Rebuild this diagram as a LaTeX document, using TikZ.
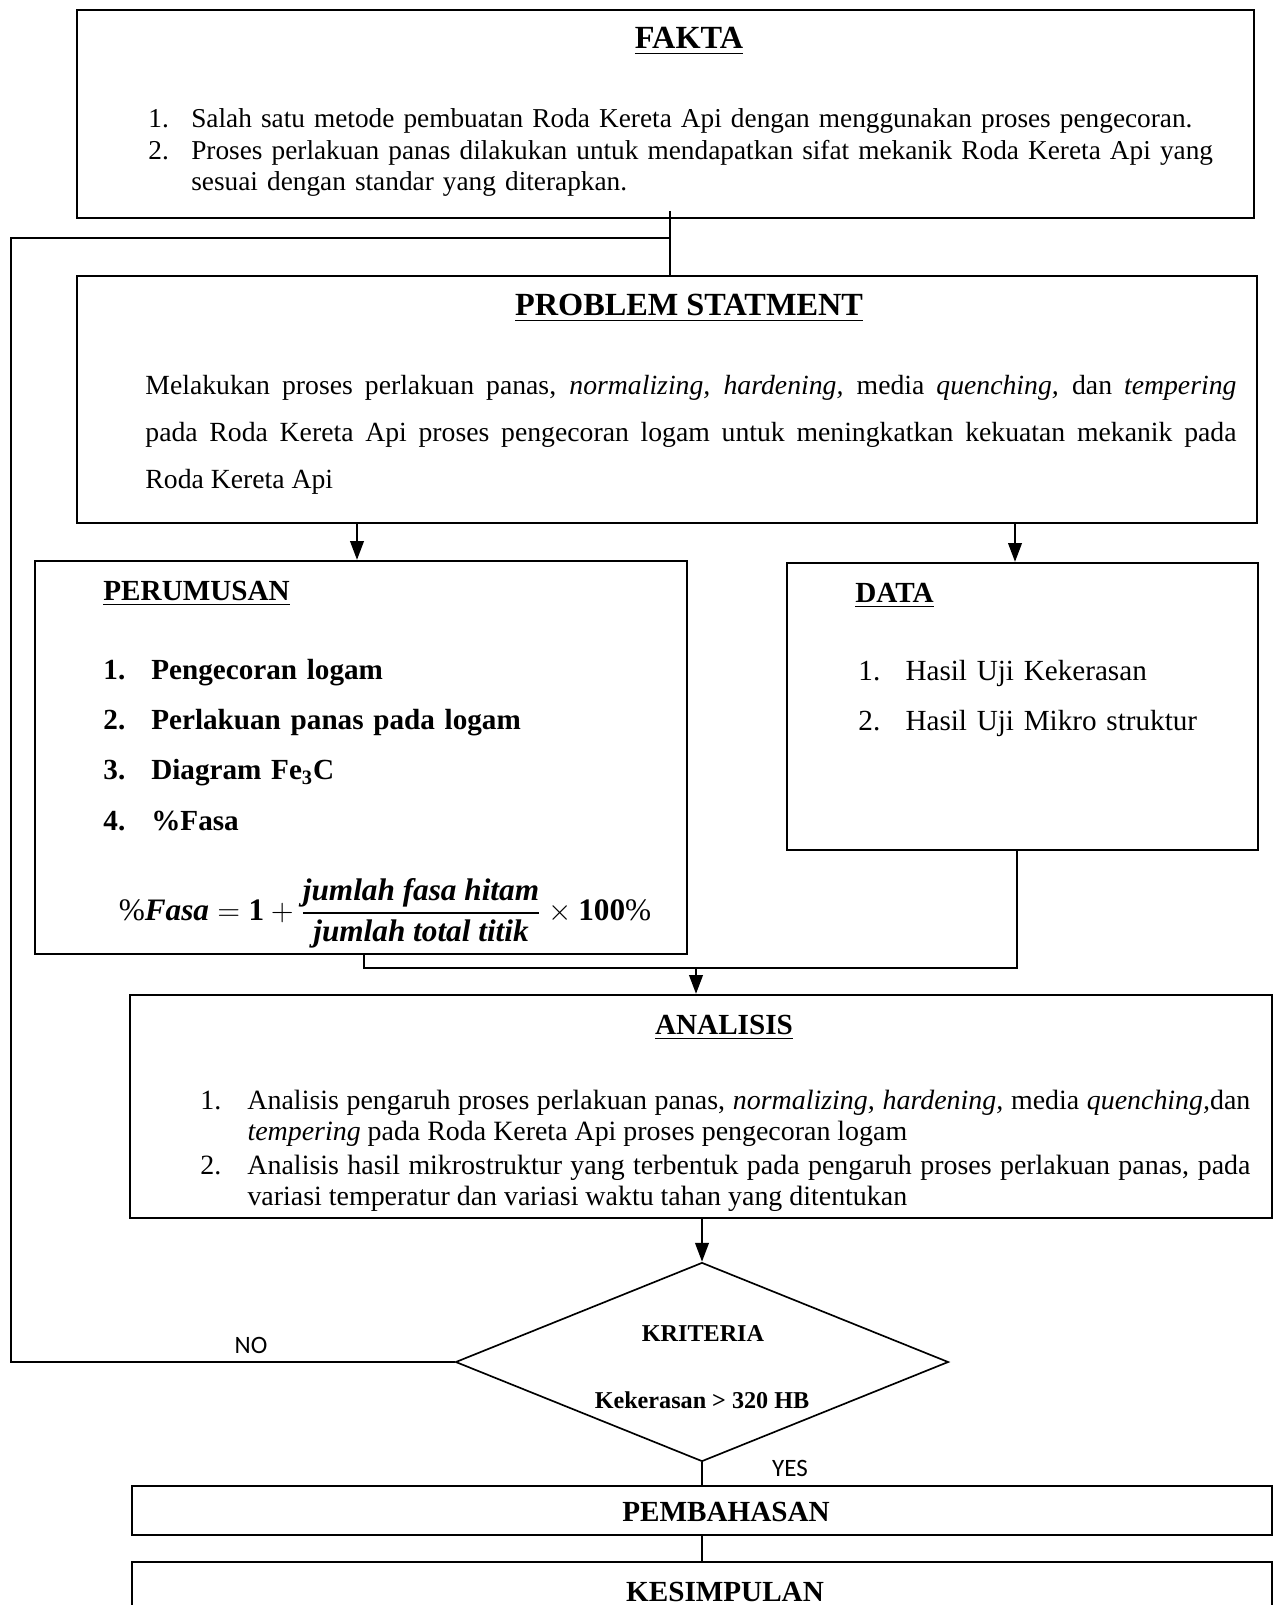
\documentclass[tikz,border=0pt]{standalone}
\usepackage{fontspec}
\setmainfont{Liberation Serif}
\newfontfamily\calibri{Carlito}
\usepackage{amsmath}
\usepackage{tikz}
\usetikzlibrary{fit,shapes.geometric,arrows.meta}
\tikzset{
    box/.style={draw, line width=1.1pt, inner sep=0pt},
    txt/.style={inner sep=0pt},
    heading/.style={txt, font=\fontsize{14}{16}\selectfont\bfseries},
    bigheading/.style={txt, font=\fontsize{15.5}{18}\selectfont\bfseries},
    flow/.style={line width=1pt, -{Triangle[length=9pt, width=6.5pt]}},
    link/.style={line width=0.6pt},
    backline/.style={line width=1.1pt},
    answer/.style={txt, font=\calibri\fontsize{12}{14}\selectfont}
}
\newcommand{\listline}[3][22.6pt]{\noindent\hangindent=#1\hangafter=1\makebox[#1][l]{#2}#3\par}

\begin{document}
\begin{tikzpicture}[x=0.48pt, y=-0.48pt]
    \useasboundingbox (0,0) rectangle (1275,1605);
    \clip (0,0) rectangle (1275,1605);
    % boxes
    \node[box, fit={(77,10) (1254,218)}] (fakta) {};
    \node[box, fit={(77,276) (1257,523)}] (problem) {};
    \node[box, fit={(35,561) (687,954)}] (perumusan) {};
    \node[box, fit={(787,563) (1258,850)}] (data) {};
    \node[box, fit={(130,995) (1272,1218)}] (analisis) {};
    \node[draw, diamond, line width=0.8pt, inner sep=0pt, minimum width=236.6pt, minimum height=95.5pt] (kriteria) at (702,1362) {};
    \node[box, fit={(132,1486) (1272,1535)}] (pembahasan) {};
    \node[box, fit={(132,1562) (1272,1660)}] (kesimpulan) {};
    % texts
    \node[bigheading, anchor=base] (faktatitle) at (689,49) {\underline{FAKTA}};
    \node[txt, anchor=base west, text width=525pt, align=left, font=\fontsize{13.1}{14.9}\selectfont] (faktalist) at (148,128) {%
        \listline[20.6pt]{1.}{Salah satu metode pembuatan Roda Kereta Api dengan menggunakan proses pengecoran.}
        \listline[20.6pt]{2.}{Proses perlakuan panas dilakukan untuk mendapatkan sifat mekanik Roda Kereta Api yang\newline sesuai dengan standar yang diterapkan.}};
    \node[bigheading, anchor=base] (problemtitle) at (689,316) {\underline{PROBLEM STATMENT}};
    \node[txt, anchor=base west, text width=523.7pt, align=justify, font=\fontsize{13.3}{22.5}\selectfont] (problemtext) at (145,395) {Melakukan proses perlakuan panas, \textit{normalizing, hardening,} media \textit{quenching,} dan \textit{tempering}\linebreak pada Roda Kereta Api proses pengecoran logam untuk meningkatkan kekuatan mekanik pada\linebreak Roda Kereta Api};
    \node[heading, anchor=base west] (perumusantitle) at (103,600) {\underline{PERUMUSAN}};
    \node[txt, anchor=base west, text width=280pt, align=left, font=\fontsize{14}{24.2}\selectfont\bfseries] (perumusanlist) at (103,679) {%
        \listline[23pt]{1.}{Pengecoran logam}
        \listline[23pt]{2.}{Perlakuan panas pada logam}
        \listline[23pt]{3.}{Diagram Fe\textsubscript{3}C}
        \listline[23pt]{4.}{\%Fasa}};
    \node[txt, font=\fontsize{15}{17}\selectfont] (rumus) at (385,913) {\thickmuskip=5mu\medmuskip=4mu$\%\text{\bfseries\itshape Fasa}=\mathbf{1}+\dfrac{\text{\bfseries\itshape jumlah fasa hitam}}{\text{\bfseries\itshape jumlah total titik}}\times\mathbf{100}\%$};
    \node[heading, anchor=base west] (datatitle) at (855,602) {\underline{DATA}};
    \node[txt, anchor=base west, text width=185pt, align=left, font=\fontsize{14}{24}\selectfont] (datalist) at (858,680) {%
        \listline{1.}{Hasil Uji Kekerasan}
        \listline{2.}{Hasil Uji Mikro struktur}};
    \node[heading, anchor=base] (analisistitle) at (724,1034) {\underline{ANALISIS}};
    \node[txt, anchor=base west, text width=504pt, align=justify, font=\fontsize{13.4}{14.9}\selectfont] (analisislist) at (200,1109) {\setlength{\parskip}{1.5pt}%
        \listline{1.}{Analisis pengaruh proses perlakuan panas, \textit{normalizing, hardening,} media \textit{quenching,}dan\linebreak \textit{tempering} pada Roda Kereta Api proses pengecoran logam}
        \listline{2.}{Analisis hasil mikrostruktur yang terbentuk pada pengaruh proses perlakuan panas, pada\linebreak variasi temperatur dan variasi waktu tahan yang ditentukan}};
    \node[txt, anchor=base, font=\fontsize{11.6}{13}\selectfont\bfseries] (kriteriatitle) at (703,1341) {KRITERIA};
    \node[txt, anchor=base, font=\fontsize{11.6}{13}\selectfont\bfseries] (kriteriarule) at (702,1408) {Kekerasan > 320 HB};
    \node[answer, anchor=base] (nolabel) at (251,1353) {NO};
    \node[answer, anchor=base] (yeslabel) at (790,1476) {YES};
    \node[heading, anchor=base] (pembahasantext) at (726,1521) {PEMBAHASAN};
    \node[heading, anchor=base] (kesimpulantext) at (725,1601) {KESIMPULAN};
    % taps
    \coordinate (join) at (670,238);
    \coordinate (corner) at (11,238);
    \coordinate (tapL) at (357,0);
    \coordinate (tapR) at (1015,0);
    \coordinate (tapP) at (364,0);
    \coordinate (tapD) at (1017,0);
    \coordinate (merge) at (696,968);
    % connectors
    \draw[line width=1pt] ([yshift=4pt]fakta.south -| join) -- (problem.north -| join);
    \draw[backline] (kriteria.west) -| (corner) -- (join);
    \draw[flow] (problem.south -| tapL) -- (perumusan.north -| tapL);
    \draw[flow] (problem.south -| tapR) -- (data.north -| tapR);
    \draw[link] (perumusan.south -| tapP) |- (merge) -| (data.south -| tapD);
    \draw[flow] (merge) -- (analisis.north -| merge);
    \draw[flow] (analisis.south -| kriteria.north) -- (kriteria.north);
    \draw[link] (kriteria.south) -- (pembahasan.north -| kriteria.south);
    \draw[link] (pembahasan.south -| kriteria.south) -- (kesimpulan.north -| kriteria.south);
\end{tikzpicture}
\end{document}
